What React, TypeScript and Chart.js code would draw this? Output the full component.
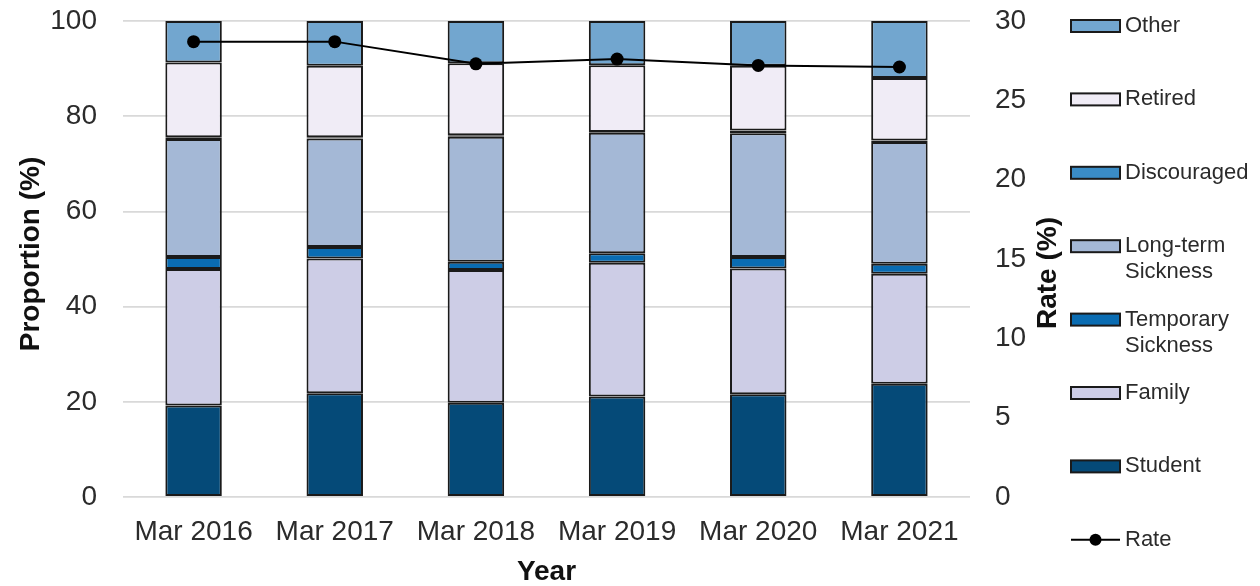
import React, { useEffect, useRef } from 'react';
import { Chart, registerables } from 'chart.js';

Chart.register(...registerables);

const categories = ['Mar 2016', 'Mar 2017', 'Mar 2018', 'Mar 2019', 'Mar 2020', 'Mar 2021'];
const student = [19.2, 21.8, 19.8, 21.1, 21.6, 23.8];
const family = [28.7, 28.3, 27.9, 28.1, 26.4, 23.1];
const temporarySickness = [2.5, 2.4, 1.7, 2.0, 2.4, 2.1];
const longTermSickness = [24.8, 22.8, 26.3, 25.3, 26.0, 25.6];
const discouraged = [0.4, 0.3, 0.3, 0.2, 0.6, 0.3];
const retired = [15.7, 15.0, 15.1, 14.0, 13.6, 13.1];
const other = [8.7, 9.4, 8.9, 9.3, 9.4, 12.0];
const rate = [28.7, 28.7, 27.3, 27.6, 27.2, 27.1];

const proportionTicks = [0, 20, 40, 60, 80, 100];
const rateTicks = [0, 5, 10, 15, 20, 25, 30];

const FONT = '"Liberation Sans", Arial, Helvetica, sans-serif';
const BORDER = '#1a1a1a';
const TEXT = '#2b2b2b';

const barSeries = [
  { label: 'Student', legend: ['Student'], data: student, color: '#054a78' },
  { label: 'Family', legend: ['Family'], data: family, color: '#cdcde6' },
  { label: 'Temporary Sickness', legend: ['Temporary', 'Sickness'], data: temporarySickness, color: '#0a6cb2' },
  { label: 'Long-term Sickness', legend: ['Long-term', 'Sickness'], data: longTermSickness, color: '#a4b8d6' },
  { label: 'Discouraged', legend: ['Discouraged'], data: discouraged, color: '#3a8cc6' },
  { label: 'Retired', legend: ['Retired'], data: retired, color: '#f0ecf6' },
  { label: 'Other', legend: ['Other'], data: other, color: '#72a6cf' },
];

export default function App() {
  const ref = useRef<HTMLCanvasElement>(null);

  useEffect(() => {
    document.body.style.margin = '0';
    const canvas = ref.current;
    if (!canvas) return;

    const overlay = {
      id: 'overlay',
      afterDraw(chart: any) {
        const ctx = chart.ctx as CanvasRenderingContext2D;
        const a = chart.chartArea;
        ctx.save();
        // axis titles
        ctx.fillStyle = '#111111';
        ctx.font = `bold 28px ${FONT}`;
        ctx.textAlign = 'center';
        ctx.textBaseline = 'middle';
        ctx.save();
        ctx.translate(31, 254);
        ctx.rotate(-Math.PI / 2);
        ctx.fillText('Proportion (%)', 0, 0);
        ctx.restore();
        ctx.fillText('Year', (a.left + a.right) / 2, 572);
        ctx.save();
        ctx.translate(1048, 273);
        ctx.rotate(-Math.PI / 2);
        ctx.fillText('Rate (%)', 0, 0);
        ctx.restore();

        // legend
        const boxX = 1071;
        const boxW = 49;
        const boxH = 12;
        const textX = 1125;
        const startY = 26;
        const step = 73.4;
        ctx.font = `22px ${FONT}`;
        ctx.textAlign = 'left';
        ctx.textBaseline = 'middle';
        const items = [...barSeries].reverse();
        items.forEach((s, i) => {
          const y = startY + i * step;
          ctx.fillStyle = s.color;
          ctx.fillRect(boxX, y - boxH / 2, boxW, boxH);
          ctx.lineWidth = 2;
          ctx.strokeStyle = BORDER;
          ctx.strokeRect(boxX, y - boxH / 2, boxW, boxH);
          ctx.fillStyle = TEXT;
          s.legend.forEach((line, j) => ctx.fillText(line, textX, y + j * 26));
        });
        const ry = startY + items.length * step;
        ctx.strokeStyle = '#000';
        ctx.lineWidth = 2;
        ctx.beginPath();
        ctx.moveTo(boxX, ry);
        ctx.lineTo(boxX + boxW, ry);
        ctx.stroke();
        ctx.fillStyle = '#000';
        ctx.beginPath();
        ctx.arc(boxX + boxW / 2, ry, 6, 0, Math.PI * 2);
        ctx.fill();
        ctx.fillStyle = TEXT;
        ctx.fillText('Rate', textX, ry);
        ctx.restore();
      },
    };

    const datasets: any[] = [
      {
        type: 'line',
        label: 'Rate',
        data: rate,
        yAxisID: 'y1',
        borderColor: '#000000',
        backgroundColor: '#000000',
        borderWidth: 2,
        pointRadius: 6.5,
        pointBackgroundColor: '#000000',
        pointBorderWidth: 0,
        order: 0,
        tension: 0,
      },
      ...barSeries.map((s) => ({
        type: 'bar',
        label: s.label,
        data: s.data,
        backgroundColor: s.color,
        borderColor: BORDER,
        borderWidth: 2,
        borderSkipped: false,
        yAxisID: 'y',
        stack: 'p',
        order: 1,
        barPercentage: 0.4,
        categoryPercentage: 1,
      })),
    ];

    const chart = new Chart(canvas, {
      type: 'bar',
      data: { labels: categories, datasets },
      options: {
        responsive: false,
        animation: false,
        devicePixelRatio: 1,
        layout: { padding: { top: 21, left: 0, right: 0, bottom: 0 } },
        plugins: { legend: { display: false }, tooltip: { enabled: false } },
        scales: {
          x: {
            stacked: true,
            grid: { display: false, drawTicks: false },
            border: { display: false },
            ticks: { font: { family: FONT, size: 28 }, color: TEXT, padding: 18, maxRotation: 0 },
            afterFit: (s: any) => { s.height = 89; s.paddingLeft = 0; s.paddingRight = 0; },
          },
          y: {
            stacked: true,
            min: 0,
            max: 100,
            afterBuildTicks: (s: any) => { s.ticks = proportionTicks.map((v) => ({ value: v })); },
            ticks: { font: { family: FONT, size: 28 }, color: TEXT, padding: 26 },
            grid: { color: '#d9d9d9', lineWidth: 1.8, drawTicks: false },
            border: { display: false },
            afterFit: (s: any) => { s.width = 123; s.paddingTop = 0; s.paddingBottom = 0; },
          },
          y1: {
            position: 'right',
            min: 0,
            max: 30,
            afterBuildTicks: (s: any) => { s.ticks = rateTicks.map((v) => ({ value: v })); },
            ticks: { font: { family: FONT, size: 28 }, color: TEXT, padding: 25 },
            grid: { display: false, drawTicks: false },
            border: { display: false },
            afterFit: (s: any) => { s.width = 290; s.paddingTop = 0; s.paddingBottom = 0; },
          },
        },
      },
      plugins: [overlay],
    });

    return () => chart.destroy();
  }, []);

  return (
    <div style={{ position: 'fixed', left: 0, top: 0, width: 1260, height: 586, background: '#fff' }}>
      <canvas ref={ref} width={1260} height={586} style={{ width: 1260, height: 586, display: 'block' }} />
    </div>
  );
}
